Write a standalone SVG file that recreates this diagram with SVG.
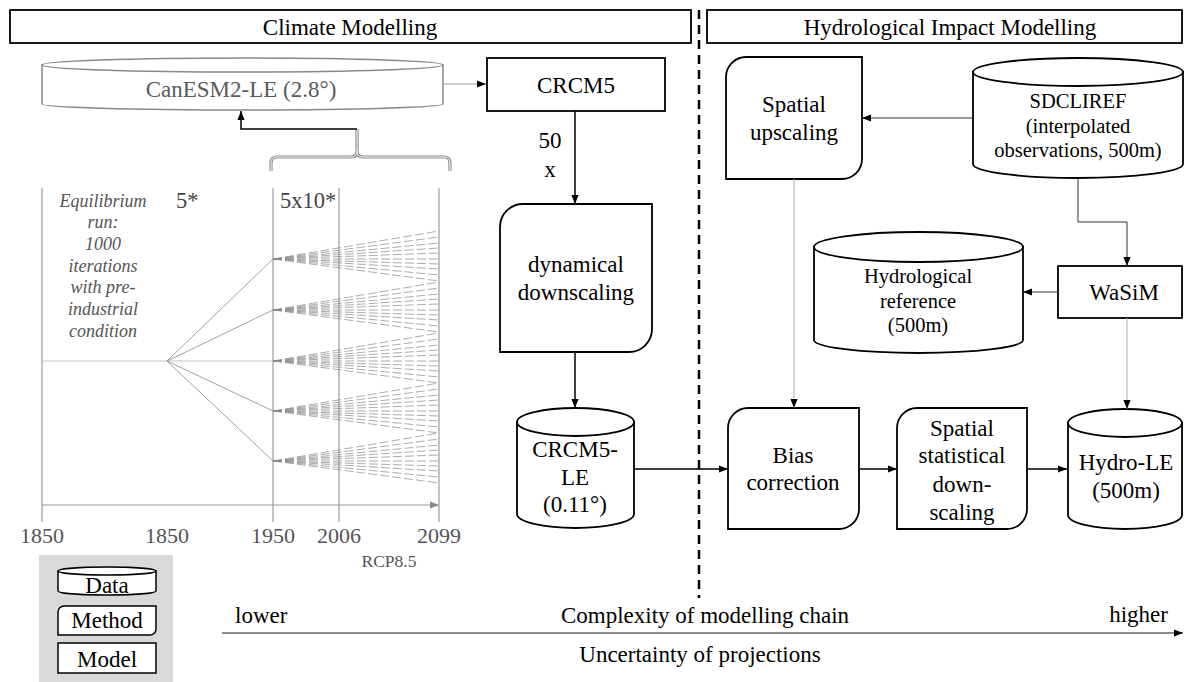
<svg xmlns="http://www.w3.org/2000/svg" width="1184" height="682" viewBox="0 0 1184 682">
<style>
text{font-family:"Liberation Serif","Times New Roman",serif;font-size:23px;fill:#000;text-anchor:middle}
.box{fill:#fff;stroke:#000;stroke-width:1.8}
.sm{font-size:20.5px}
.grey{fill:#5a5a5a}
.it{font-style:italic;font-size:18px;fill:#555}
.yr{font-size:22px;fill:#555}
.conn{fill:none;stroke:#000;stroke-width:1.5}
.thin{fill:none;stroke:#333;stroke-width:1}
.light{fill:none;stroke:#aaa;stroke-width:1}
.chart{fill:none;stroke:#9a9a9a;stroke-width:1.2}
.fan{fill:none;stroke:#888;stroke-width:0.7;stroke-dasharray:9 3}
</style>
<defs>
<marker id="ah" viewBox="0 0 10 10" refX="10" refY="5" markerWidth="9" markerHeight="9" markerUnits="userSpaceOnUse" orient="auto"><path d="M0,1 L10,5 L0,9 z" fill="#000"/></marker>
<marker id="ahg" viewBox="0 0 10 10" refX="10" refY="5" markerWidth="9" markerHeight="9" markerUnits="userSpaceOnUse" orient="auto"><path d="M0,1 L10,5 L0,9 z" fill="#888"/></marker>
</defs>
<rect width="1184" height="682" fill="#fff"/>

<g id="header-climate">
<rect x="10" y="10" width="681" height="33" fill="#fff" stroke="#000" stroke-width="1.8"/>
<text x="350" y="35">Climate Modelling</text>
</g>
<g id="header-hydro">
<rect x="707" y="10" width="475" height="33" fill="#fff" stroke="#000" stroke-width="1.8"/>
<text x="950" y="35">Hydrological Impact Modelling</text>
</g>
<g id="divider">
<line x1="699" y1="10" x2="699" y2="598" stroke="#000" stroke-width="2.5" stroke-dasharray="9 6"/>
</g>

<g id="chart">
<line class="chart" x1="42" y1="188" x2="42" y2="522"/>
<line class="chart" x1="273" y1="188" x2="273" y2="522"/>
<line class="chart" x1="339" y1="188" x2="339" y2="522"/>
<line class="chart" x1="439" y1="188" x2="439" y2="522"/>
<line class="chart" x1="42" y1="505" x2="439" y2="505" marker-end="url(#ahg)"/>
<line x1="42" y1="361" x2="273" y2="361" stroke="#c4c4c4" stroke-width="1"/>
<g stroke="#8a8a8a" stroke-width="0.8">
<line x1="167" y1="361" x2="273" y2="259"/>
<line x1="167" y1="361" x2="273" y2="310"/>
<line x1="167" y1="361" x2="273" y2="411"/>
<line x1="167" y1="361" x2="273" y2="461"/>
</g>
<g class="fan">
<path d="M273,259 L439,231 M273,259 L439,237 M273,259 L439,243 M273,259 L439,248 M273,259 L439,253 M273,259 L439,259 M273,259 L439,264 M273,259 L439,269 M273,259 L439,275 M273,259 L439,281"/>
<path d="M273,310 L439,282 M273,310 L439,288 M273,310 L439,294 M273,310 L439,299 M273,310 L439,304 M273,310 L439,310 M273,310 L439,315 M273,310 L439,320 M273,310 L439,326 M273,310 L439,332"/>
<path d="M273,361 L439,333 M273,361 L439,339 M273,361 L439,345 M273,361 L439,350 M273,361 L439,355 M273,361 L439,361 M273,361 L439,366 M273,361 L439,371 M273,361 L439,377 M273,361 L439,383"/>
<path d="M273,411 L439,383 M273,411 L439,389 M273,411 L439,395 M273,411 L439,400 M273,411 L439,405 M273,411 L439,411 M273,411 L439,416 M273,411 L439,421 M273,411 L439,427 M273,411 L439,433"/>
<path d="M273,461 L439,433 M273,461 L439,439 M273,461 L439,445 M273,461 L439,450 M273,461 L439,455 M273,461 L439,461 M273,461 L439,466 M273,461 L439,471 M273,461 L439,477 M273,461 L439,483"/>
</g>
<g fill="none">
<path d="M271,171 L271,163 Q271,157 277,157 L351,157 Q357,157 357,151 L357,129 M357,151 Q357,157 363,157 L444,157 Q450,157 450,163 L450,171" stroke="#8a8a8a" stroke-width="3.2"/>
<path d="M271,171 L271,163 Q271,157 277,157 L351,157 Q357,157 357,151 L357,129 M357,151 Q357,157 363,157 L444,157 Q450,157 450,163 L450,171" stroke="#fff" stroke-width="1"/>
</g>
<text class="it" x="103" y="207">Equilibrium</text>
<text class="it" x="103" y="228">run:</text>
<text class="it" x="103" y="250">1000</text>
<text class="it" x="103" y="272">iterations</text>
<text class="it" x="103" y="293">with pre-</text>
<text class="it" x="103" y="315">industrial</text>
<text class="it" x="103" y="337">condition</text>
<text x="176" y="208" style="text-anchor:start;fill:#444;font-size:22.5px">5*</text>
<text x="280" y="208" style="text-anchor:start;fill:#444;font-size:22.5px">5x10*</text>
<text class="yr" x="42" y="543">1850</text>
<text class="yr" x="167" y="543">1850</text>
<text class="yr" x="273" y="543">1950</text>
<text class="yr" x="339" y="543">2006</text>
<text class="yr" x="439" y="543">2099</text>
<text x="389" y="567" style="font-size:17.5px;fill:#555">RCP8.5</text>
</g>

<g id="canesm2">
<path d="M42,65 L42,104 A200.5,6 0 0 0 443,104 L443,65 Z" fill="#fff" stroke="#888" stroke-width="1.5"/>
<ellipse cx="242.5" cy="65" rx="200.5" ry="7" fill="#fff" stroke="#888" stroke-width="1.5"/>
<text class="grey" x="241" y="97">CanESM2-LE (2.8°)</text>
</g>

<g id="crcm5">
<rect class="box" x="487" y="58" width="178" height="53"/>
<text x="576" y="93">CRCM5</text>
</g>

<g id="dynamical-downscaling">
<path class="box" d="M523,204 L652,204 L652,329 A23,23 0 0 1 629,352 L500,352 L500,227 A23,23 0 0 1 523,204 Z"/>
<text x="576" y="272">dynamical</text>
<text x="576" y="300">downscaling</text>
</g>

<g id="crcm5-le">
<path class="box" d="M517,422 L517,514 A58.5,14 0 0 0 634,514 L634,422 Z"/>
<ellipse class="box" cx="575.5" cy="422" rx="58.5" ry="14"/>
<text x="575" y="457">CRCM5-</text>
<text x="575" y="485">LE</text>
<text x="575" y="512">(0.11°)</text>
</g>

<g id="spatial-upscaling">
<path class="box" d="M746,57 L862,57 L862,159 A20,20 0 0 1 842,179 L726,179 L726,77 A20,20 0 0 1 746,57 Z"/>
<text x="794" y="112">Spatial</text>
<text x="794" y="140">upscaling</text>
</g>

<g id="sdcliref">
<path class="box" d="M973,72 L973,164 A105,14 0 0 0 1183,164 L1183,72 Z"/>
<ellipse class="box" cx="1078" cy="72" rx="105" ry="14"/>
<text class="sm" x="1078" y="108">SDCLIREF</text>
<text class="sm" x="1078" y="133">(interpolated</text>
<text class="sm" x="1078" y="157">observations, 500m)</text>
</g>

<g id="hydro-reference">
<path class="box" d="M814,247 L814,340 A104.5,13 0 0 0 1023,340 L1023,247 Z"/>
<ellipse class="box" cx="918.5" cy="247" rx="104.5" ry="15"/>
<text class="sm" x="918" y="283">Hydrological</text>
<text class="sm" x="918" y="308">reference</text>
<text class="sm" x="918" y="332">(500m)</text>
</g>

<g id="wasim">
<rect class="box" x="1058" y="266" width="124" height="52"/>
<text x="1124" y="300">WaSiM</text>
</g>

<g id="bias-correction">
<path class="box" d="M748,408 L859,408 L859,509 A20,20 0 0 1 839,529 L728,529 L728,428 A20,20 0 0 1 748,408 Z"/>
<text x="793" y="463">Bias</text>
<text x="793" y="490">correction</text>
</g>

<g id="spatial-statistical-downscaling">
<path class="box" d="M917,408 L1027,408 L1027,509 A20,20 0 0 1 1007,529 L897,529 L897,428 A20,20 0 0 1 917,408 Z"/>
<text x="962" y="436">Spatial</text>
<text x="962" y="463">statistical</text>
<text x="962" y="492">down-</text>
<text x="962" y="520">scaling</text>
</g>

<g id="hydro-le">
<path class="box" d="M1068,423 L1068,515 A57,14 0 0 0 1182,515 L1182,423 Z"/>
<ellipse class="box" cx="1125" cy="423" rx="57" ry="14"/>
<text x="1126" y="470">Hydro-LE</text>
<text x="1126" y="498">(500m)</text>
</g>

<g id="legend">
<rect x="39" y="555" width="134" height="127" fill="#d9d9d9"/>
<path d="M58,571 L58,591 A49,4 0 0 0 156,591 L156,571 Z" fill="#fff" stroke="#000" stroke-width="1.5"/>
<ellipse cx="107" cy="571" rx="49" ry="4" fill="#fff" stroke="#000" stroke-width="1.5"/>
<text x="107" y="593">Data</text>
<path d="M64,606 L156,606 L156,629 A6,6 0 0 1 150,635 L58,635 L58,612 A6,6 0 0 1 64,606 Z" fill="#fff" stroke="#000" stroke-width="1.5"/>
<text x="107" y="628">Method</text>
<rect x="58" y="643" width="98" height="30" fill="#fff" stroke="#000" stroke-width="1.5"/>
<text x="107" y="667">Model</text>
</g>

<g id="complexity-axis">
<line x1="222" y1="633" x2="1183" y2="633" stroke="#666" stroke-width="1.5" marker-end="url(#ah)"/>
<text x="235" y="623" style="text-anchor:start">lower</text>
<text x="1168" y="622" style="text-anchor:end">higher</text>
<text x="705" y="623">Complexity of modelling chain</text>
<text x="700" y="662">Uncertainty of projections</text>
</g>

<g id="connectors">
<line x1="443" y1="84" x2="486" y2="84" stroke="#999" stroke-width="1.2" marker-end="url(#ah)"/>
<path class="conn" d="M357,129 L241,129 L241,111" marker-end="url(#ah)"/>
<line class="conn" x1="575" y1="111" x2="575" y2="204" marker-end="url(#ah)"/>
<text x="550" y="148">50</text>
<text x="550" y="177">x</text>
<line class="conn" x1="575" y1="352" x2="575" y2="408" marker-end="url(#ah)"/>
<line class="conn" x1="634" y1="469" x2="728" y2="469" marker-end="url(#ah)"/>
<line class="conn" x1="859" y1="469" x2="897" y2="469" marker-end="url(#ah)"/>
<line class="conn" x1="1027" y1="469" x2="1067" y2="469" marker-end="url(#ah)"/>
<line class="thin" x1="973" y1="118" x2="862" y2="118" marker-end="url(#ah)"/>
<path class="thin" d="M1078,178 L1078,222 L1127,222 L1127,266" marker-end="url(#ah)"/>
<line class="thin" x1="1058" y1="292" x2="1023" y2="292" marker-end="url(#ah)"/>
<line class="light" x1="794" y1="179" x2="794" y2="408" marker-end="url(#ah)"/>
<line class="light" x1="1127" y1="318" x2="1127" y2="409" marker-end="url(#ah)"/>
</g>
</svg>
